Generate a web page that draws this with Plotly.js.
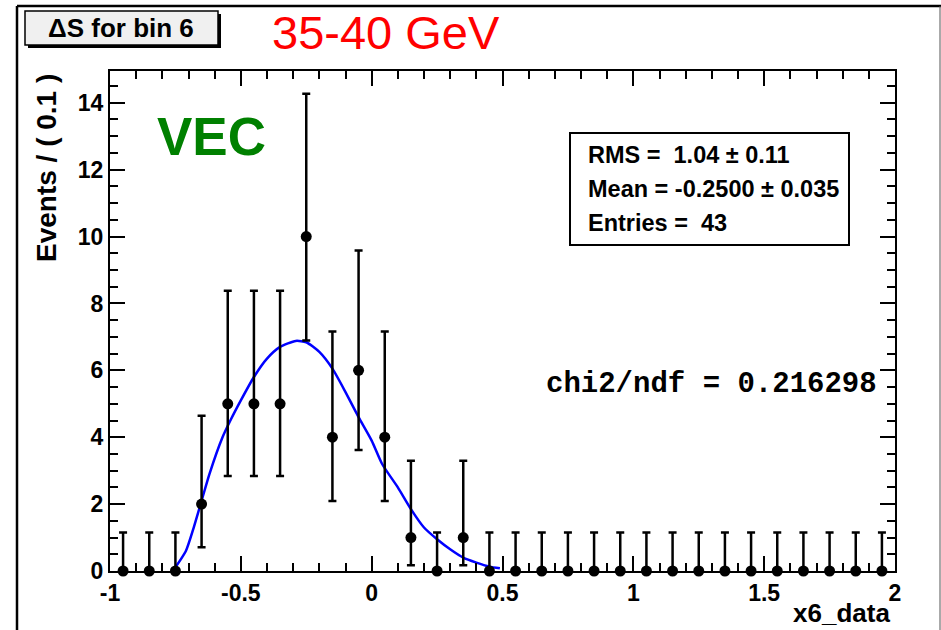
<!DOCTYPE html>
<html>
<head>
<meta charset="utf-8">
<script src="https://cdn.plot.ly/plotly-3.0.1.min.js"></script>
<style>html,body{margin:0;padding:0;background:#fff;}#chart{width:941px;height:630px;}</style>
</head>
<body>
<div id="chart"></div>
<script>
// ---- data ----
var binCenters = [-0.95,-0.85,-0.75,-0.65,-0.55,-0.45,-0.35,-0.25,-0.15,-0.05,
                  0.05,0.15,0.25,0.35,0.45,0.55,0.65,0.75,0.85,0.95,
                  1.05,1.15,1.25,1.35,1.45,1.55,1.65,1.75,1.85,1.95];
var counts     = [0,0,0,2,5,5,5,10,4,6,
                  4,1,0,1,0,0,0,0,0,0,
                  0,0,0,0,0,0,0,0,0,0];
var errUp      = [1.15,1.15,1.15,2.64,3.38,3.38,3.38,4.27,3.16,3.58,
                  3.16,2.30,1.15,2.30,1.15,1.15,1.15,1.15,1.15,1.15,
                  1.15,1.15,1.15,1.15,1.15,1.15,1.15,1.15,1.15,1.15];
var errDown    = [0,0,0,1.29,2.16,2.16,2.16,3.11,1.91,2.38,
                  1.91,0.83,0,0.83,0,0,0,0,0,0,
                  0,0,0,0,0,0,0,0,0,0];
var fitX = [-0.76,-0.71,-0.68,-0.65,-0.62,-0.57,-0.54,-0.50,-0.45,-0.40,-0.35,-0.29,-0.25,-0.20,
            -0.15,-0.10,-0.05,0.00,0.04,0.10,0.15,0.20,0.25,0.30,0.35,0.40,0.45,0.49];
var fitY = [0,0.6,1.3,2.1,2.9,4.0,4.5,5.1,5.8,6.35,6.7,6.88,6.84,6.55,
            6.05,5.35,4.6,3.9,3.2,2.5,1.85,1.3,0.95,0.65,0.4,0.25,0.13,0.08];
var xTickVals = [-1,-0.5,0,0.5,1,1.5,2];
var xTickText = ["-1","-0.5","0","0.5","1","1.5","2"];
var yTickVals = [0,2,4,6,8,10,12,14];
var yTickText = ["0","2","4","6","8","10","12","14"];
var statsLines = ["RMS =  1.04 \u00b1 0.11", "Mean = -0.2500 \u00b1 0.035", "Entries =  43"];
var chiText = "chi2/ndf = 0.216298";

// ---- pixel helpers (plot area 110..895 x 71..571) ----
var W = 941, H = 630, L = 110, R = 895, T = 71, B = 571;
function px(x){ return (x - L) / (R - L); }
function py(y){ return (B - y) / (B - T); }

var bold = {family: "Liberation Sans, Arial, sans-serif", weight: "bold", color: "black"};
function f(extra){ return Object.assign({}, bold, extra); }

var traces = [
  {
    x: fitX, y: fitY, type: "scatter", mode: "lines",
    line: {color: "#0000ff", width: 2.5, shape: "spline", smoothing: 0.6},
    hoverinfo: "skip", cliponaxis: false
  },
  {
    x: binCenters, y: counts, type: "scatter", mode: "markers",
    marker: {color: "black", size: 11, symbol: "circle"},
    error_y: {type: "data", symmetric: false, array: errUp, arrayminus: errDown,
              color: "black", thickness: 2.5, width: 4},
    cliponaxis: false
  }
];

var axisCommon = {
  showline: true, linecolor: "black", linewidth: 2, mirror: "ticks",
  ticks: "inside", ticklen: 15, tickwidth: 2, tickcolor: "black",
  showgrid: false, zeroline: false, fixedrange: true,
  tickfont: f({size: 23})
};

var layout = {
  width: W, height: H,
  margin: {l: L, r: W - R, t: T, b: H - B, pad: 0},
  paper_bgcolor: "white", plot_bgcolor: "white",
  showlegend: false,
  xaxis: Object.assign({}, axisCommon, {
    range: [-1, 2], tickmode: "array", tickvals: xTickVals, ticktext: xTickText,
    minor: {dtick: 0.1, tick0: -1, ticklen: 8, tickwidth: 2, tickcolor: "black", ticks: "inside", showgrid: false}
  }),
  yaxis: Object.assign({}, axisCommon, {
    range: [0, 14.95], tickmode: "array", tickvals: yTickVals, ticktext: yTickText,
    minor: {dtick: 0.5, tick0: 0, ticklen: 8, tickwidth: 2, tickcolor: "black", ticks: "inside", showgrid: false}
  }),
  shapes: [
    // outer canvas frame
    {type: "line", xref: "paper", yref: "paper", x0: px(17), x1: px(941), y0: py(6), y1: py(6), line: {color: "black", width: 2.5}},
    {type: "line", xref: "paper", yref: "paper", x0: px(17), x1: px(17), y0: py(6), y1: py(640), line: {color: "black", width: 2.5}},
    {type: "line", xref: "paper", yref: "paper", x0: px(940), x1: px(940), y0: py(6), y1: py(640), line: {color: "#555", width: 1}},
    // title box shadow + box
    {type: "rect", xref: "paper", yref: "paper", x0: px(28), x1: px(221), y0: py(48), y1: py(14), fillcolor: "black", line: {width: 0}},
    {type: "rect", xref: "paper", yref: "paper", x0: px(25), x1: px(218), y0: py(45), y1: py(11), fillcolor: "#f0f0f0", line: {color: "black", width: 1.5}},
    // stats box
    {type: "rect", xref: "paper", yref: "paper", x0: px(570), x1: px(849), y0: py(245), y1: py(133), fillcolor: "white", line: {color: "black", width: 2}}
  ],
  annotations: [
    {text: "\u0394S for bin 6", xref: "paper", yref: "paper", x: px(121), y: py(28), xanchor: "center", yanchor: "middle", showarrow: false, font: f({size: 26})},
    {text: "35-40 GeV", xref: "paper", yref: "paper", x: px(270), y: py(33), xanchor: "left", yanchor: "middle", showarrow: false,
     font: {family: "Liberation Sans, Arial, sans-serif", size: 47, color: "#ff0000"}},
    {text: "VEC", xref: "paper", yref: "paper", x: px(155), y: py(136), xanchor: "left", yanchor: "middle", showarrow: false,
     font: {family: "Liberation Sans, Arial, sans-serif", weight: "bold", size: 53, color: "#008000"}},
    {text: statsLines[0], xref: "paper", yref: "paper", x: px(586), y: py(155), xanchor: "left", yanchor: "middle", showarrow: false, font: f({size: 23.5})},
    {text: statsLines[1], xref: "paper", yref: "paper", x: px(586), y: py(189), xanchor: "left", yanchor: "middle", showarrow: false, font: f({size: 23.5})},
    {text: statsLines[2], xref: "paper", yref: "paper", x: px(586), y: py(223), xanchor: "left", yanchor: "middle", showarrow: false, font: f({size: 23.5})},
    {text: chiText, xref: "paper", yref: "paper", x: px(544), y: py(384), xanchor: "left", yanchor: "middle", showarrow: false,
     font: {family: "Liberation Mono, Courier New, monospace", weight: "bold", size: 29, color: "black"}},
    {text: "x6_data", xref: "paper", yref: "paper", x: px(892), y: py(613), xanchor: "right", yanchor: "middle", showarrow: false, font: f({size: 26})},
    {text: "Events / ( 0.1 )", xref: "paper", yref: "paper", x: px(47), y: py(168), xanchor: "center", yanchor: "middle", textangle: -90, showarrow: false, font: f({size: 28})}
  ]
};

Plotly.newPlot("chart", traces, layout, {displayModeBar: false, staticPlot: true});
</script>
</body>
</html>
